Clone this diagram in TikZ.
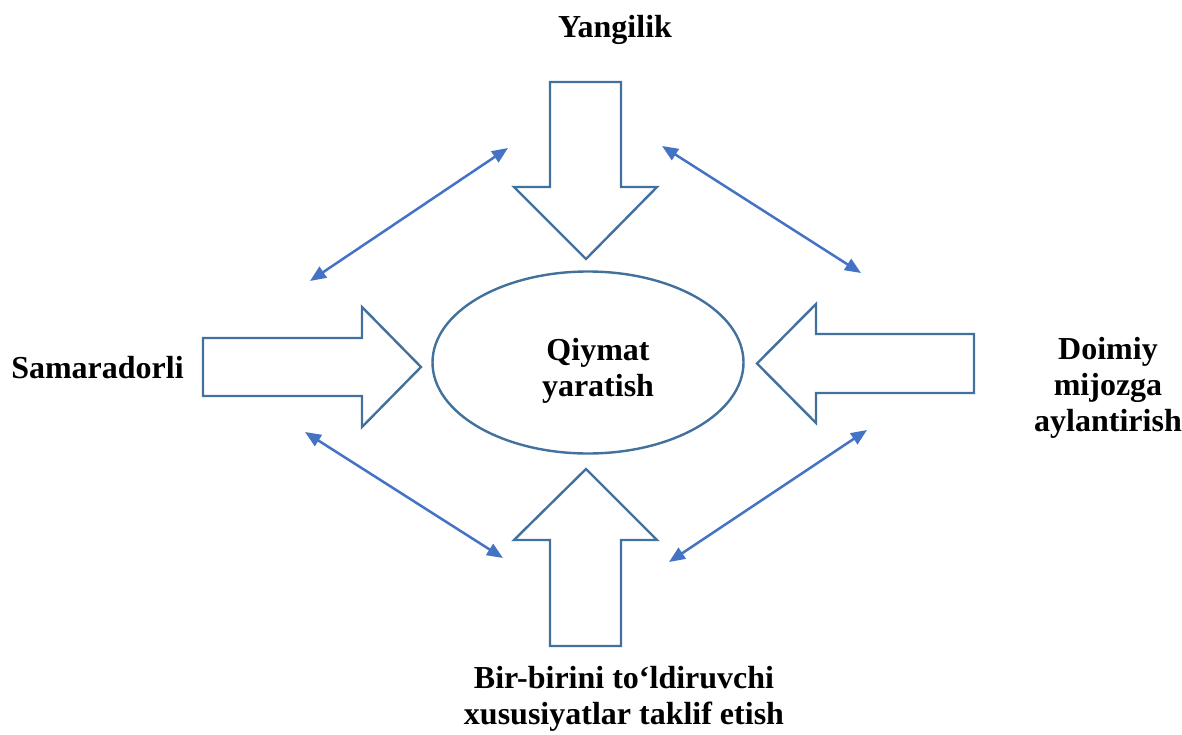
\documentclass[tikz,border=0pt]{standalone}
\usepackage{fontspec}
\setmainfont{Liberation Serif}
\usetikzlibrary{arrows.meta}
\definecolor{blockblue}{HTML}{41719C}
\definecolor{linkblue}{HTML}{4472C4}
\tikzset{
  blockarrow/.style={draw=blockblue, line width=2.4pt, fill=white, line join=miter},
  link/.style={draw=linkblue, line width=2.5pt, {Triangle[length=16pt,width=13pt]}-{Triangle[length=16pt,width=13pt]}},
  label/.style={font=\bfseries\fontsize{32}{36}\selectfont, align=center, inner sep=0pt},
}
\begin{document}
\begin{tikzpicture}[x=1pt,y=-1pt]
\useasboundingbox (0,0) rectangle (1182,735);
% central ellipse
\draw[blockarrow] (588,362.5) ellipse [x radius=155.5, y radius=91];
\node[label, anchor=base] (center) at (598,396) {Qiymat\\yaratish};
% top block arrow (down)
\draw[blockarrow] (550,82) -- (621,82) -- (621,187) -- (657,187) -- (586,259) -- (514,187) -- (550,187) -- cycle;
% bottom block arrow (up)
\draw[blockarrow] (550,646) -- (621,646) -- (621,540) -- (657,540) -- (586,469) -- (514,540) -- (550,540) -- cycle;
% left block arrow (right)
\draw[blockarrow] (203,338) -- (362,338) -- (362,307) -- (421,367) -- (362,427) -- (362,396) -- (203,396) -- cycle;
% right block arrow (left)
\draw[blockarrow] (974,334) -- (816,334) -- (816,304) -- (757,363.5) -- (816,423) -- (816,393) -- (974,393) -- cycle;
% labels
\node[label, anchor=base] (top) at (615,38) {Yangilik};
\node[label, anchor=base] (left) at (97.5,378) {Samaradorli};
\node[label, anchor=base] (right) at (1108,431) {Doimiy\\mijozga\\aylantirish};
\node[label, anchor=base] (bottom) at (624,724) {Bir-birini to‘ldiruvchi\\xususiyatlar taklif etish};
% link arrows
\coordinate (tl1) at (310,281);
\coordinate (tl2) at (508,148);
\coordinate (tr1) at (662,146);
\coordinate (tr2) at (861,273);
\coordinate (bl1) at (305,432);
\coordinate (bl2) at (503,558);
\coordinate (br1) at (867,430);
\coordinate (br2) at (669,562);
\draw[link] (tl1) -- (tl2);
\draw[link] (tr1) -- (tr2);
\draw[link] (bl1) -- (bl2);
\draw[link] (br1) -- (br2);
\end{tikzpicture}
\end{document}
